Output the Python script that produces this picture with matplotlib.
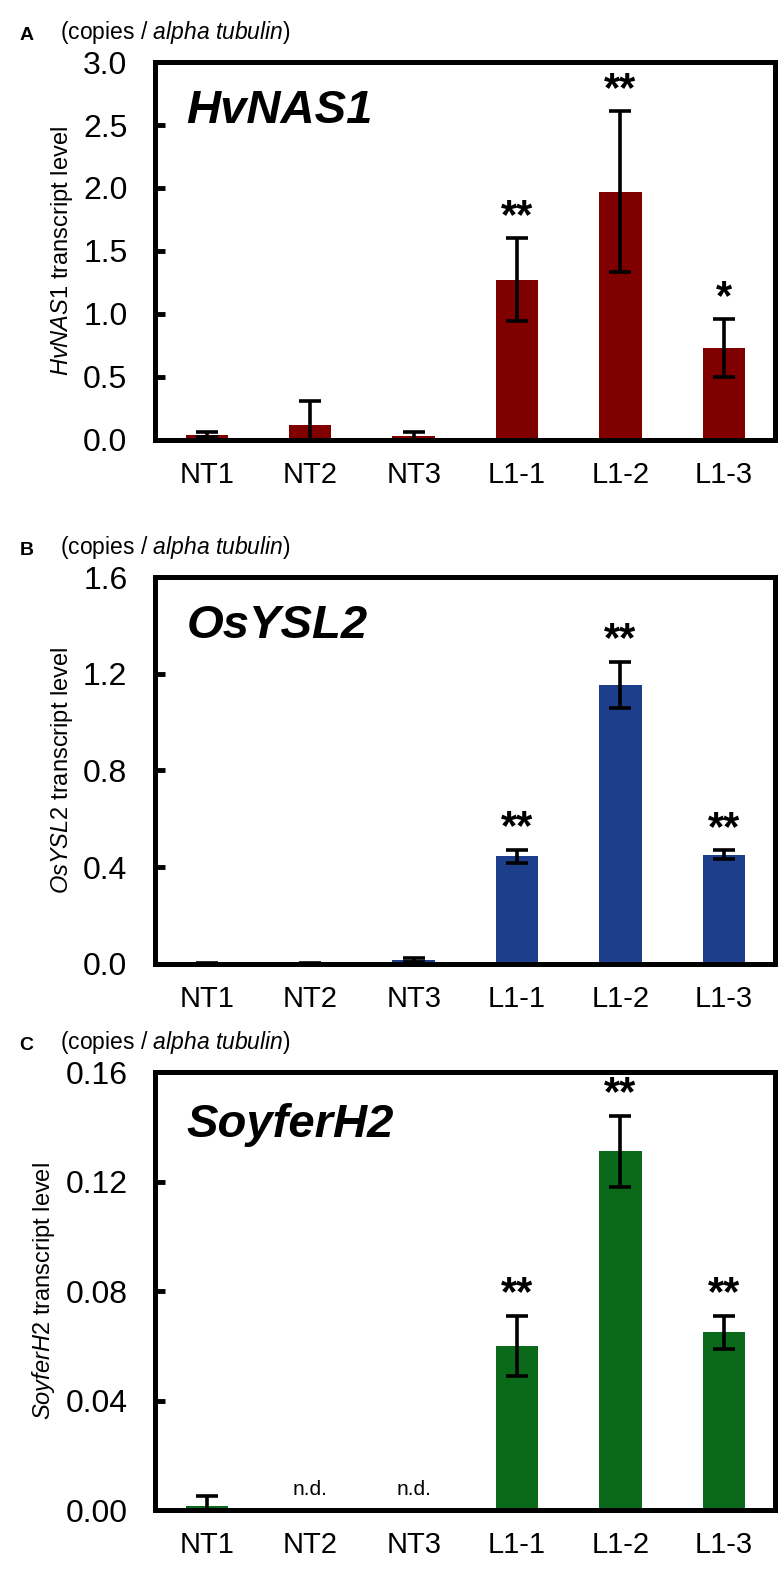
import numpy as np
import matplotlib
matplotlib.use("Agg")
import matplotlib.pyplot as plt

plt.rcParams["font.family"] = ["Liberation Sans", "DejaVu Sans"]
plt.rcParams["mathtext.fontset"] = "custom"
plt.rcParams["mathtext.rm"] = "Liberation Sans"
plt.rcParams["mathtext.it"] = "Liberation Sans:italic"
plt.rcParams["mathtext.bf"] = "Liberation Sans:bold"

# Data
lines = ["NT1", "NT2", "NT3", "L1-1", "L1-2", "L1-3"]

nas1_mean = [0.04, 0.12, 0.03, 1.27, 1.97, 0.73]
nas1_err = [0.02, 0.19, 0.03, 0.33, 0.64, 0.23]
nas1_sig = ["", "", "", "**", "**", "*"]

ysl2_mean = [0.002, 0.001, 0.015, 0.445, 1.155, 0.452]
ysl2_err = [0.001, 0.001, 0.008, 0.028, 0.095, 0.018]
ysl2_sig = ["", "", "", "**", "**", "**"]

fer_mean = [0.0015, 0.0, 0.0, 0.060, 0.131, 0.065]
fer_err = [0.0035, 0.0, 0.0, 0.011, 0.013, 0.006]
fer_sig = ["", "n.d.", "n.d.", "**", "**", "**"]

panels = [
    ("A", "HvNAS1", nas1_mean, nas1_err, nas1_sig, "#800000", (0, 3.0), [0, 0.5, 1.0, 1.5, 2.0, 2.5, 3.0], "%.1f"),
    ("B", "OsYSL2", ysl2_mean, ysl2_err, ysl2_sig, "#1d3e8a", (0, 1.6), [0, 0.4, 0.8, 1.2, 1.6], "%.1f"),
    ("C", "SoyferH2", fer_mean, fer_err, fer_sig, "#0a6a1a", (0, 0.16), [0, 0.04, 0.08, 0.12, 0.16], "%.2f"),
]

# axes boxes: bottom, height (figure fractions)
boxes = [(0.720, 0.2405), (0.3864, 0.2463), (0.0388, 0.2788)]

fig = plt.figure(figsize=(7.84, 15.71), dpi=100)

for (letter, gene, mean, err, sig, color, ylim, yticks, fmt), (bot, h) in zip(panels, boxes):
    ax = fig.add_axes([0.198, bot, 0.791, h])
    x = np.arange(len(lines))
    ax.bar(x, mean, width=0.41, color=color, zorder=2)
    ax.errorbar(x, mean, yerr=err, fmt="none", ecolor="black", elinewidth=2.6,
                capsize=8, capthick=2.6, zorder=3)
    span = ylim[1] - ylim[0]
    for xi, m, e, s in zip(x, mean, err, sig):
        if s == "n.d.":
            ax.text(xi, 0.025 * span, s, ha="center", va="bottom", fontsize=15)
        elif s:
            ax.text(xi, m + e + 0.003 * span, s, ha="center", va="bottom",
                    fontsize=30, fontweight="bold")
    ax.set_xlim(-0.5, 5.5)
    ax.set_ylim(*ylim)
    ax.set_yticks(yticks)
    ax.set_yticklabels([fmt % t for t in yticks])
    ax.set_xticks(x)
    ax.set_xticklabels(lines)
    ax.tick_params(axis="y", direction="in", length=7, width=3.5, labelsize=23, pad=20)
    ax.tick_params(axis="x", length=0, labelsize=21, pad=15)
    for sp in ax.spines.values():
        sp.set_linewidth(3.6)
    ax.set_ylabel(r"$\it{" + gene + "}$ transcript level", fontsize=17, labelpad=6)
    ax.text(0.05, 0.93, gene, transform=ax.transAxes, fontsize=34,
            fontweight="bold", fontstyle="italic", va="top", ha="left")
    top = bot + h
    fig.text(0.025, top + 0.017, letter, fontsize=14, fontweight="bold", va="center")
    fig.text(0.077, top + 0.019, r"(copies / $\it{alpha\ tubulin}$)", fontsize=16.5, va="center")

fig.savefig("out.png", dpi=100)
